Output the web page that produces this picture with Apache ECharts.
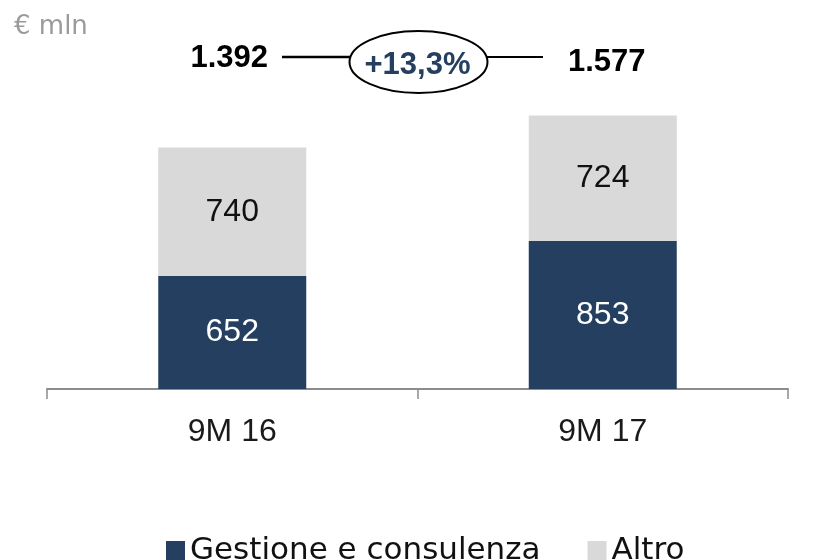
<!DOCTYPE html>
<html><head><meta charset="utf-8">
<script src="https://cdn.jsdelivr.net/npm/echarts@6/dist/echarts.min.js"></script>
<style>html,body{margin:0;padding:0;background:#fff}#c{width:823px;height:560px}</style>
</head><body><div id="c"></div>
<script>
var categories = ['9M 16', '9M 17'];
var gestione = [652, 853];
var altro = [740, 724];
var seriesNames = ['Gestione e consulenza', 'Altro'];
var unitLabel = '€ mln';

var FONT = '"DejaVu Sans", sans-serif';
var NUMF = '"Liberation Sans", Arial, sans-serif';
var NAVY = '#243F60', GREY = '#D9D9D9';
function fmt(n){ return String(n).replace(/\B(?=(\d{3})+(?!\d))/g, '.'); }
var totals = categories.map(function(_, i){ return gestione[i] + altro[i]; });
var growth = (totals[1] / totals[0] - 1) * 100;
var growthText = (growth >= 0 ? '+' : '') + growth.toFixed(1).replace('.', ',') + '%';

var chart = echarts.init(document.getElementById('c'));
chart.setOption({
  animation: false,
  grid: { left: 47, right: 35, top: 42, bottom: 171 },
  xAxis: {
    type: 'category', data: categories,
    axisLine: { lineStyle: { color: '#8c8c8c', width: 2 } },
    axisTick: { show: true, length: 10, lineStyle: { color: '#8c8c8c', width: 1.5 } },
    axisLabel: { fontFamily: NUMF, fontSize: 32, color: '#1a1a1a', margin: 27 }
  },
  yAxis: { type: 'value', min: 0, max: 2000, show: false, splitLine: { show: false } },
  legend: {
    data: seriesNames, left: 161, top: 530, itemWidth: 19, itemHeight: 19, itemGap: 47,
    icon: 'rect',
    textStyle: { fontFamily: FONT, fontSize: 31, color: '#111' }
  },
  series: [
    { name: seriesNames[0], type: 'bar', stack: 's', data: gestione, barWidth: 148,
      itemStyle: { color: NAVY },
      label: { show: true, position: 'inside', color: '#fff', fontFamily: NUMF, fontSize: 32 } },
    { name: seriesNames[1], type: 'bar', stack: 's', data: altro, barWidth: 148,
      itemStyle: { color: GREY },
      label: { show: true, position: 'inside', color: '#111', fontFamily: NUMF, fontSize: 32 } }
  ]
});

var x0 = chart.convertToPixel({ xAxisIndex: 0 }, 0);
var x1 = chart.convertToPixel({ xAxisIndex: 0 }, 1);
var mid = (x0 + x1) / 2;
chart.setOption({
  graphic: [
    { type: 'text', x: 14, y: 27, style: { text: unitLabel, font: '26px ' + FONT, fill: '#9a9a9a', verticalAlign: 'middle' } },
    { type: 'text', x: x0 - 3, y: 58, style: { text: fmt(totals[0]), font: 'bold 31px ' + NUMF, fill: '#000', align: 'center', verticalAlign: 'middle' } },
    { type: 'text', x: x1 + 4, y: 62, style: { text: fmt(totals[1]), font: 'bold 31px ' + NUMF, fill: '#000', align: 'center', verticalAlign: 'middle' } },
    { type: 'line', shape: { x1: 282, y1: 57, x2: mid - 60, y2: 57 }, style: { stroke: '#000', lineWidth: 2.5 } },
    { type: 'line', shape: { x1: mid + 60, y1: 57, x2: 543, y2: 57 }, style: { stroke: '#000', lineWidth: 2 } },
    { type: 'ellipse', shape: { cx: mid + 1, cy: 62, rx: 69, ry: 31 }, style: { fill: '#fff', stroke: '#000', lineWidth: 2 } },
    { type: 'text', x: mid, y: 65, z: 10, style: { text: growthText, font: 'bold 31px ' + NUMF, fill: NAVY, align: 'center', verticalAlign: 'middle' } }
  ]
});
</script></body></html>
